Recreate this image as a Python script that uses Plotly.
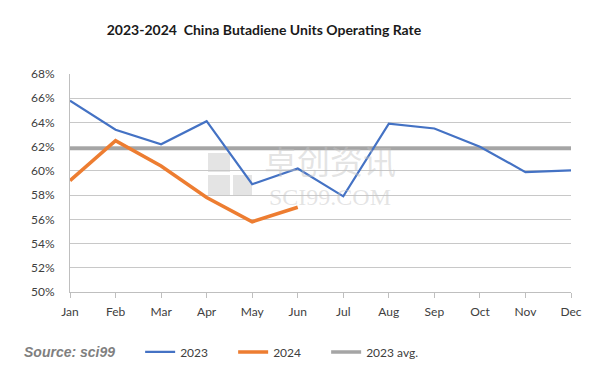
import plotly.graph_objects as go

months = ["Jan", "Feb", "Mar", "Apr", "May", "Jun", "Jul", "Aug", "Sep", "Oct", "Nov", "Dec"]
rate_2023 = [65.8, 63.4, 62.2, 64.1, 58.9, 60.2, 57.9, 63.9, 63.5, 62.0, 59.9, 60.05]
rate_2024 = [59.2, 62.5, 60.4, 57.8, 55.8, 57.0]
avg_2023 = [61.85] * 12
y_ticks = [50, 52, 54, 56, 58, 60, 62, 64, 66, 68]
y_tick_labels = [f"{v}%" for v in y_ticks]

FONT = "Lato, Open Sans, sans-serif"
WM = "rgba(195,195,195,0.45)"

fig = go.Figure()
fig.add_trace(go.Scatter(x=months, y=avg_2023, name="2023 avg.", mode="lines",
                         line=dict(color="#A5A5A5", width=3.5), legendrank=3))
fig.add_trace(go.Scatter(x=months, y=rate_2023, name="2023", mode="lines",
                         line=dict(color="#4472C4", width=2.2), legendrank=1))
fig.add_trace(go.Scatter(x=months[:len(rate_2024)], y=rate_2024, name="2024", mode="lines",
                         line=dict(color="#ED7D31", width=3.5), legendrank=2))

fig.update_layout(
    width=606, height=370,
    margin=dict(l=62, r=43, t=66, b=86, autoexpand=False),
    paper_bgcolor="white", plot_bgcolor="white",
    font=dict(family=FONT, size=12, color="#404040"),
    title=dict(text="<b>2023-2024  China Butadiene Units Operating Rate</b>",
               x=0.4224, xanchor="center", y=0.9405, yanchor="middle",
               font=dict(family=FONT, size=14, color="#1a1a1a")),
    showlegend=True,
    legend=dict(orientation="h", x=0.14, y=-0.275, xanchor="left", yanchor="middle",
                font=dict(size=12, color="#404040"), entrywidth=48, entrywidthmode="pixels",
                itemwidth=30, bgcolor="rgba(0,0,0,0)"),
    xaxis=dict(type="category", categoryorder="array", categoryarray=months,
               range=[0, 11], showgrid=False, showline=True, linecolor="#BFBFBF", linewidth=1,
               ticks="outside", ticklen=5, tickcolor="#BFBFBF", ticklabelstandoff=4,
               tickfont=dict(size=12, color="#404040")),
    yaxis=dict(range=[50, 68], tickvals=y_ticks, ticktext=y_tick_labels,
               showgrid=True, gridcolor="#C8C8C8", gridwidth=1,
               showline=True, linecolor="#BFBFBF", linewidth=1,
               zeroline=False, ticks="", ticklabelstandoff=12,
               tickfont=dict(size=12, color="#404040")),
)

fig.add_annotation(text="<b><i>Source: sci99</i></b>", xref="paper", yref="paper",
                   x=-0.096, y=-0.275, xanchor="left", yanchor="middle", showarrow=False,
                   font=dict(family="Liberation Sans, Arial, sans-serif", size=14, color="#7F7F7F"))
# watermark (single text block)
fig.add_annotation(
    text=("<span style='font-family:Noto Sans CJK SC;font-size:33px'>卓创资讯</span><br>"
          "<span style='font-family:Liberation Serif;font-size:24px'>SCI99.COM</span>"),
    xref="paper", yref="paper", x=(330 - 70) / 501, y=(292 - 173) / 218,
    xanchor="center", yanchor="middle", showarrow=False,
    font=dict(family="Liberation Serif", size=24, color=WM))
for (px0, py0, px1, py1) in [(208, 153, 230, 172), (208, 175, 230, 195), (233, 175, 252, 195)]:
    fig.add_shape(type="rect", xref="paper", yref="paper",
                  x0=(px0 - 70) / 501, x1=(px1 - 70) / 501,
                  y0=(292 - py1) / 218, y1=(292 - py0) / 218,
                  fillcolor=WM, line=dict(width=0), layer="below")

fig.write_html("out.html")
